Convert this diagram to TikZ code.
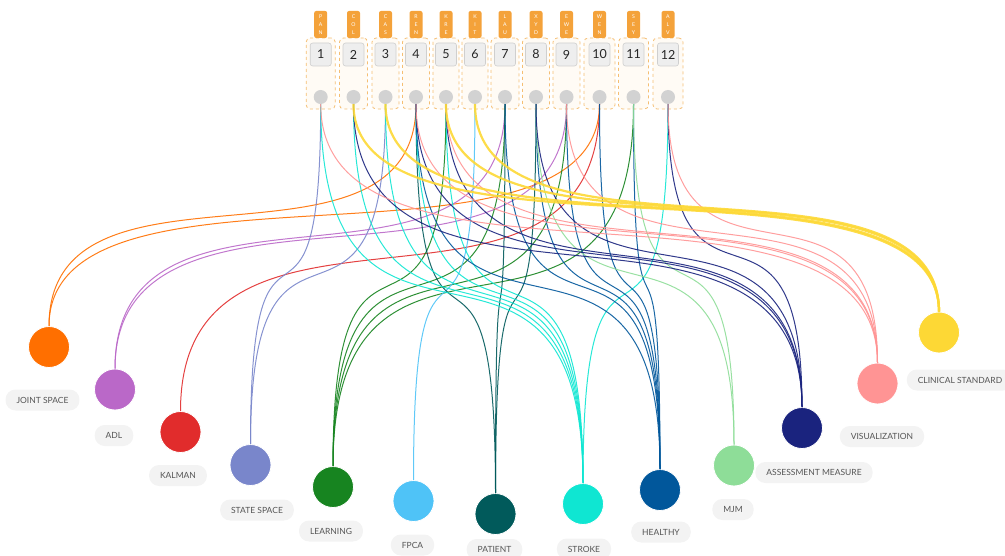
\documentclass[tikz,border=0pt]{standalone}
\usepackage{fontspec}
\setmainfont{Lato}
\usetikzlibrary{calc}
\definecolor{tagorange}{HTML}{F4A23A}
\definecolor{cardborder}{HTML}{F5BE72}
\definecolor{cardfill}{HTML}{FFFBF5}
\definecolor{numfill}{HTML}{EEEEEE}
\definecolor{numborder}{HTML}{CFCFCF}
\definecolor{dotgray}{HTML}{D2D2D2}
\definecolor{pillgray}{HTML}{F3F3F3}
\definecolor{textgray}{HTML}{555555}
\definecolor{cjs}{HTML}{FF6F00}
\definecolor{cadl}{HTML}{BA68C8}
\definecolor{ckal}{HTML}{E12C2C}
\definecolor{css}{HTML}{7986CB}
\definecolor{clea}{HTML}{178420}
\definecolor{cfpca}{HTML}{4FC3F7}
\definecolor{cpat}{HTML}{015A5B}
\definecolor{cstr}{HTML}{0FE6D2}
\definecolor{chea}{HTML}{01579B}
\definecolor{cmjm}{HTML}{8EDD98}
\definecolor{cass}{HTML}{1A237E}
\definecolor{cvis}{HTML}{FF9494}
\definecolor{ccli}{HTML}{FDD835}
\tikzset{
  tagbox/.style={fill=tagorange, rounded corners=2, minimum width=13, minimum height=27, inner sep=0,
    text=white, font=\fontsize{5.2}{8}\selectfont, align=center},
  card/.style={draw=cardborder, dashed, line width=0.8, fill=cardfill, rounded corners=4, minimum height=71, inner sep=0},
  numbox/.style={fill=numfill, draw=numborder, line width=0.6, rounded corners=2.5, minimum width=21, minimum height=23,
    inner sep=0, font=\fontsize{12.5}{12.5}\selectfont, text=black!85},
  dotnode/.style={circle, fill=dotgray, minimum size=14, inner sep=0},
  topic/.style={circle, minimum size=41, inner sep=0, draw=white, line width=0.8},
  pill/.style={fill=pillgray, rounded corners=10, minimum height=21, inner xsep=11, inner ysep=0,
    font=\fontsize{8.5}{8.5}\selectfont, text=textgray},
}
\newcommand\topcol[5]{%
  \node[card, minimum width=#5] (k#1) at (#2,73.5) {};
  \node[tagbox] (g#1) at (#2,24.5) {#3};
  \node[numbox] (n#1) at (#2,54.5) {#4};
  \node[dotnode] (t#1) at (#2,97) {};
}
\newcommand\lnk[3][1]{%
  \draw[line width=#1, color=c#3, opacity=0.9] let \p1=(t#2.south), \p2=(#3.north),
    \p3=($(\p1)!0.85!(\p2)$), \p4=($(\p1)!0.15!(\p2)$) in
    (\p1) .. controls (\x1,\y3) and (\x2,\y4) .. (\p2);
}
\begin{document}
\begin{tikzpicture}[x=1pt,y=-1pt]
\useasboundingbox (0,0) rectangle (1005,556);
% top columns
\topcol{1}{320.7}{P\\A\\N}{1}{29}
\topcol{2}{353.5}{C\\O\\L}{2}{28}
\topcol{3}{385.5}{C\\A\\S}{3}{27}
\topcol{4}{416}{R\\E\\N}{4}{27}
\topcol{5}{446}{K\\R\\E}{5}{26}
\topcol{6}{475}{K\\I\\T}{6}{26}
\topcol{7}{505}{L\\A\\U}{7}{28}
\topcol{8}{536}{X\\Y\\D}{8}{27}
\topcol{9}{566.5}{E\\W\\E}{9}{27}
\topcol{10}{599.5}{W\\E\\N}{10}{31}
\topcol{11}{633.5}{S\\E\\Y}{11}{30}
\topcol{12}{668}{A\\L\\V}{12}{30}
% bottom topics
\node[topic, fill=cjs] (js) at (49,347) {};
\node[pill] (ljs) at (42.5,400) {JOINT SPACE};
\node[topic, fill=cadl] (adl) at (115,389.5) {};
\node[pill] (ladl) at (114,435.5) {ADL};
\node[topic, fill=ckal] (kal) at (180.5,432) {};
\node[pill] (lkal) at (178,475.5) {KALMAN};
\node[topic, fill=css] (ss) at (250.5,465) {};
\node[pill] (lss) at (257,510) {STATE SPACE};
\node[topic, fill=clea] (lea) at (333,487) {};
\node[pill] (llea) at (331,531) {LEARNING};
\node[topic, fill=cfpca] (fpca) at (413.5,501) {};
\node[pill] (lfpca) at (412.5,545) {FPCA};
\node[topic, fill=cpat] (pat) at (495.5,514) {};
\node[pill] (lpat) at (494.5,549.5) {PATIENT};
\node[topic, fill=cstr] (str) at (583,504) {};
\node[pill] (lstr) at (584,549) {STROKE};
\node[topic, fill=chea] (hea) at (660,490) {};
\node[pill] (lhea) at (661,532) {HEALTHY};
\node[topic, fill=cmjm] (mjm) at (734,465.5) {};
\node[pill] (lmjm) at (733,509.5) {MJM};
\node[topic, fill=cass] (ass) at (802,428) {};
\node[pill] (lass) at (814,472.5) {ASSESSMENT MEASURE};
\node[topic, fill=cvis] (vis) at (877.5,383.5) {};
\node[pill] (lvis) at (882,436.5) {VISUALIZATION};
\node[topic, fill=ccli] (cli) at (939,332.5) {};
\node[pill] (lcli) at (960,380) {CLINICAL STANDARD};
% links
\lnk{4}{js}\lnk{10}{js}
\lnk{7}{adl}\lnk{9}{adl}
\lnk{10}{kal}
\lnk{1}{ss}\lnk{3}{ss}
\lnk{5}{lea}\lnk{7}{lea}\lnk{9}{lea}\lnk{11}{lea}
\lnk{6}{fpca}
\lnk{4}{pat}\lnk{7}{pat}\lnk{8}{pat}
\lnk{1}{str}\lnk{2}{str}\lnk{3}{str}\lnk{4}{str}\lnk{5}{str}\lnk{12}{str}
\lnk{4}{hea}\lnk{7}{hea}\lnk{8}{hea}\lnk{9}{hea}\lnk{10}{hea}\lnk{11}{hea}
\lnk{8}{mjm}\lnk{11}{mjm}
\lnk{2}{ass}\lnk{4}{ass}\lnk{5}{ass}\lnk{8}{ass}\lnk{12}{ass}
\lnk{1}{vis}\lnk{4}{vis}\lnk{5}{vis}\lnk{9}{vis}\lnk{12}{vis}
\lnk[2.2]{2}{cli}\lnk[2.2]{3}{cli}\lnk[2.2]{5}{cli}\lnk[2.2]{6}{cli}
\end{tikzpicture}
\end{document}
